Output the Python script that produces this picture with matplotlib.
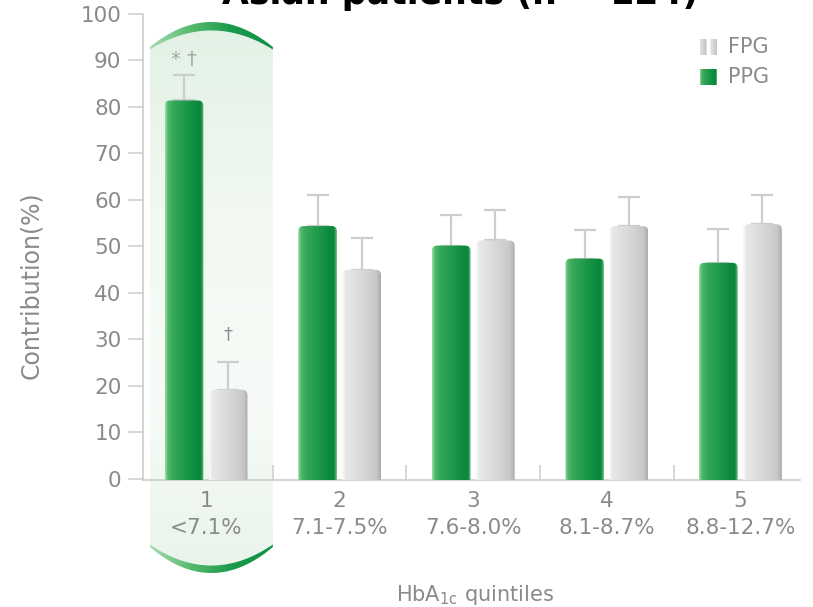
import numpy as np
import matplotlib.pyplot as plt
from matplotlib.patches import FancyBboxPatch, Polygon
from matplotlib.colors import LinearSegmentedColormap

# contribution of FPG / PPG to HbA1c by quintile
quintiles = ['1', '2', '3', '4', '5']
hba1c_ranges = ['<7.1%', '7.1-7.5%', '7.6-8.0%', '8.1-8.7%', '8.8-12.7%']
series = ['FPG', 'PPG']
ppg = [81.3, 54.3, 50.1, 47.3, 46.4]
ppg_err = [5.4, 6.7, 6.5, 6.1, 7.2]
fpg = [19.1, 44.9, 51.2, 54.3, 54.7]
fpg_err = [5.9, 6.9, 6.5, 6.2, 6.3]
marks_ppg = ['* †', '', '', '', '']
marks_fpg = ['†', '', '', '', '']

W, H = 813, 607
plt.rcParams['font.family'] = 'DejaVu Sans'
grey_txt = '#8a8a8a'
line_grey = '#cdcdcd'

green_cm = LinearSegmentedColormap.from_list('green', [
    (0, '#9ad9a6'), (0.07, '#4fb86a'), (0.2, '#35a858'), (0.8, '#0c8b40'),
    (0.93, '#0a863d'), (1, '#6cc07e')])
grey_cm = LinearSegmentedColormap.from_list('grey', [
    (0, '#fafafa'), (0.08, '#e8e8e8'), (0.65, '#d3d3d3'), (0.9, '#c6c6c6'),
    (1, '#ababab')])

fig = plt.figure(figsize=(W / 100, H / 100), dpi=100)
bg = fig.add_axes([0, 0, 1, 1], zorder=0)
bg.set_xlim(0, W)
bg.set_ylim(H, 0)
bg.axis('off')

ax = fig.add_axes([143 / W, 1 - 480 / H, 657 / W, 466.5 / H], zorder=1)
ax.patch.set_alpha(0)

x = np.arange(len(quintiles))
w = 0.29
off = 0.165
bars_ppg = ax.bar(x - off, ppg, w, facecolor='none', edgecolor='none')
bars_fpg = ax.bar(x + off, fpg, w, facecolor='none', edgecolor='none')


def fill_bar(rect, cmap):
    x0, bw, bh = rect.get_x(), rect.get_width(), rect.get_height()
    clip = FancyBboxPatch((x0, -5), bw, bh + 5,
                          boxstyle='round,pad=0,rounding_size=0.04',
                          mutation_aspect=28.6, fc='none', ec='none')
    ax.add_patch(clip)
    im = ax.imshow(np.linspace(0, 1, 64)[None, :], extent=[x0, x0 + bw, -0.3, bh],
                   aspect='auto', cmap=cmap, zorder=3, interpolation='bilinear')
    im.set_clip_path(clip)


for r in bars_ppg:
    fill_bar(r, green_cm)
for r in bars_fpg:
    fill_bar(r, grey_cm)

ekw = dict(fmt='none', ecolor=line_grey, elinewidth=1.6, capsize=8, capthick=1.6, zorder=2)
ax.errorbar(x - off, ppg, yerr=[np.zeros(5), ppg_err], **ekw)
ax.errorbar(x + off, fpg, yerr=[np.zeros(5), fpg_err], **ekw)

for i in range(len(x)):
    if marks_ppg[i]:
        ax.text(x[i] - off, ppg[i] + ppg_err[i] + 3.5, marks_ppg[i], ha='center', va='center',
                fontsize=14, color='#a8a8a8')
    if marks_fpg[i]:
        ax.text(x[i] + off, fpg[i] + fpg_err[i] + 6, marks_fpg[i], ha='center', va='center',
                fontsize=13, color='#909090')

ax.set_xlim(-0.472, 4.446)
ax.set_ylim(-0.3, 100)
ax.set_yticks(np.arange(0, 101, 10))
ax.set_xticks(x, [q + '\n' + r for q, r in zip(quintiles, hba1c_ranges)], linespacing=1.4)
ax.set_xticks(x[:-1] + 0.5, minor=True)
ax.tick_params(axis='y', length=10.5, width=1.1, color=line_grey, labelsize=15.5,
               labelcolor=grey_txt, pad=5)
ax.tick_params(axis='x', which='major', length=0, labelsize=15.5, labelcolor=grey_txt, pad=8)
ax.tick_params(axis='x', which='minor', direction='in', length=10.5, width=1.1, color=line_grey)
for s in ['top', 'right']:
    ax.spines[s].set_visible(False)
for s in ['left', 'bottom']:
    ax.spines[s].set_color(line_grey)
    ax.spines[s].set_linewidth(1.2)
fig.text(31 / W, 1 - 285 / H, 'Contribution(%)', rotation=90, ha='center', va='center',
         fontsize=17, color=grey_txt)
fig.text(475 / W, 1 - 595 / H, r'HbA$_\mathregular{1c}$ quintiles', ha='center', va='center',
         fontsize=15, color=grey_txt)

fig.text(460 / W, 1 - 4 / H, 'Asian patients (n = 124)', ha='center', va='baseline',
         fontsize=25, fontweight='bold', color='black')

# highlight band behind the first quintile
fig.canvas.draw()
to_px = lambda xd, yd: ax.transData.transform((xd, yd))
xl = to_px(-0.42, 0)[0]
xr = to_px(0.5, 0)[0]
t = np.linspace(-1, 1, 80)
xs = xl + (t + 1) / 2 * (xr - xl)
top_out = 47 - 25 * (1 - t ** 2)
top_in = top_out + 2.5 + 6 * (1 - t ** 2)
bot_out = 547 + 26 * (1 - t ** 2)
bot_in = bot_out - 2.5 - 5 * (1 - t ** 2)

panel = Polygon(np.column_stack([np.r_[xs, xs[::-1]], np.r_[top_in, bot_in[::-1]]]),
                fc='none', ec='none')
bg.add_patch(panel)
panel_cm = LinearSegmentedColormap.from_list('panel', ['#e2f1e5', '#f0f8f1', '#f7fbf7', '#e9f4eb'])
im = bg.imshow(np.linspace(0, 1, 100)[:, None], extent=[xl, xr, 580, 18], aspect='auto',
               cmap=panel_cm, interpolation='bilinear', zorder=0)
im.set_clip_path(panel)

arc_cm = LinearSegmentedColormap.from_list('arc', ['#a6dbb0', '#55b96d', '#1a9a4c', '#0e9245'])
for outer, inner, y0, y1 in [(top_out, top_in, 60, 18), (bot_out, bot_in, 578, 538)]:
    arc = Polygon(np.column_stack([np.r_[xs, xs[::-1]], np.r_[outer, inner[::-1]]]),
                  fc='none', ec='none')
    bg.add_patch(arc)
    ai = bg.imshow(np.linspace(0, 1, 64)[None, :], extent=[xl, xr, y0, y1], aspect='auto',
                   cmap=arc_cm, interpolation='bilinear', zorder=1)
    ai.set_clip_path(arc)

# legend swatches
swatch_cms = {'FPG': LinearSegmentedColormap.from_list('fs', [
    (0, '#e2e2e2'), (0.35, '#c4c4c4'), (0.42, '#ffffff'), (0.58, '#ffffff'),
    (0.65, '#e2e2e2'), (1, '#c4c4c4')]), 'PPG': green_cm}
for name, yc in zip(series, [47, 77]):
    bg.imshow(np.linspace(0, 1, 64)[None, :], extent=[700, 717, yc + 8, yc - 8], aspect='auto',
              cmap=swatch_cms[name], interpolation='bilinear', zorder=2)
    bg.text(728, yc, name, ha='left', va='center', fontsize=15, color=grey_txt)
bg.set_xlim(0, W)
bg.set_ylim(H, 0)

fig.savefig('out.png', dpi=100)
